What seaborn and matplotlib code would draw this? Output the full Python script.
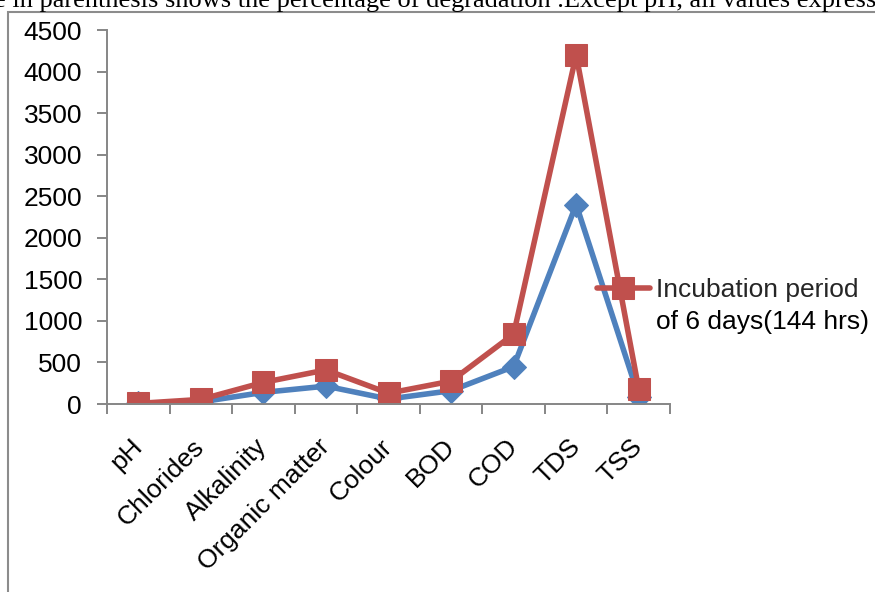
import matplotlib
matplotlib.use('Agg')
import matplotlib.pyplot as plt
from matplotlib.patches import Rectangle
import seaborn as sns
import pandas as pd

# categories and the two series
parameters = ['pH', 'Chlorides', 'Alkalinity', 'Organic matter', 'Colour',
              'BOD', 'COD', 'TDS', 'TSS']
blue_values = [7, 25, 140, 215, 60, 160, 450, 2400, 90]
red_values = [7, 55, 260, 410, 130, 275, 840, 4200, 180]
red_label = 'Incubation period'
red_label_2 = 'of 6 days(144 hrs)'
y_ticks = [0, 500, 1000, 1500, 2000, 2500, 3000, 3500, 4000, 4500]

BLUE = '#4F81BD'
RED = '#C0504D'
GREY = '#868686'
FS = 19

sns.set_theme(style='white')
plt.rcParams['font.family'] = ['Liberation Sans', 'DejaVu Sans']

fig = plt.figure(figsize=(8.75, 5.92), dpi=100)
ax = fig.add_axes([107 / 875, 1 - 404 / 592, (670 - 107) / 875, (404 - 30) / 592])

df_blue = pd.DataFrame({'parameter': parameters, 'value': blue_values})
df_red = pd.DataFrame({'parameter': parameters, 'value': red_values})

sns.lineplot(data=df_blue, x='parameter', y='value', sort=False, ax=ax,
             color=BLUE, lw=4, marker='D', markersize=12,
             markeredgecolor=BLUE, markerfacecolor=BLUE)
sns.lineplot(data=df_red, x='parameter', y='value', sort=False, ax=ax,
             color=RED, lw=4, marker='s', markersize=15.5,
             markeredgecolor=RED, markerfacecolor=RED, label=red_label)

ax.set_xlim(-0.5, len(parameters) - 0.5)
ax.set_ylim(0, 4500)
ax.set_yticks(y_ticks)
ax.set_xlabel('')
ax.set_ylabel('')

for s in ['top', 'right']:
    ax.spines[s].set_visible(False)
for s in ['left', 'bottom']:
    ax.spines[s].set_color(GREY)
    ax.spines[s].set_linewidth(1.4)

ax.tick_params(axis='y', left=True, length=7, width=1.4, color=GREY,
               labelsize=FS, labelcolor='black', pad=11)
ax.set_xticks(range(len(parameters)))
ax.set_xticklabels(parameters, rotation=45, ha='right', va='center',
                   rotation_mode='anchor', fontsize=FS, color='black')
ax.tick_params(axis='x', bottom=True, length=0, pad=28)
ax.set_xticks([i - 0.5 for i in range(len(parameters) + 1)], minor=True)
ax.tick_params(axis='x', which='minor', bottom=True, length=7, width=1.4, color=GREY)

leg = ax.legend(loc='center left', bbox_to_anchor=(597 / 875, 1 - 290 / 592),
                bbox_transform=fig.transFigure, frameon=False, fontsize=FS,
                handlelength=2.0, handletextpad=0.22, borderpad=0, borderaxespad=0)
fig.text(656 / 875, 1 - 322 / 592, red_label_2, fontsize=FS, va='center',
         ha='left', color='black')

# outer frame of the screenshot, cut off at right and bottom
fig.patches.append(Rectangle((8 / 875, -0.1), 1.2, 1.1 - 12 / 592,
                             transform=fig.transFigure, fill=False,
                             edgecolor='#8c8c8c', lw=1.5))

# cropped caption line above the chart
fig.text(-6.5 / 875, 1 - 7 / 592,
         'e in parenthesis shows the percentage of degradation .Except pH, all values express',
         family=['Liberation Serif', 'DejaVu Serif'], fontsize=19, va='baseline',
         color='black')

fig.savefig('out.png', dpi=100)
